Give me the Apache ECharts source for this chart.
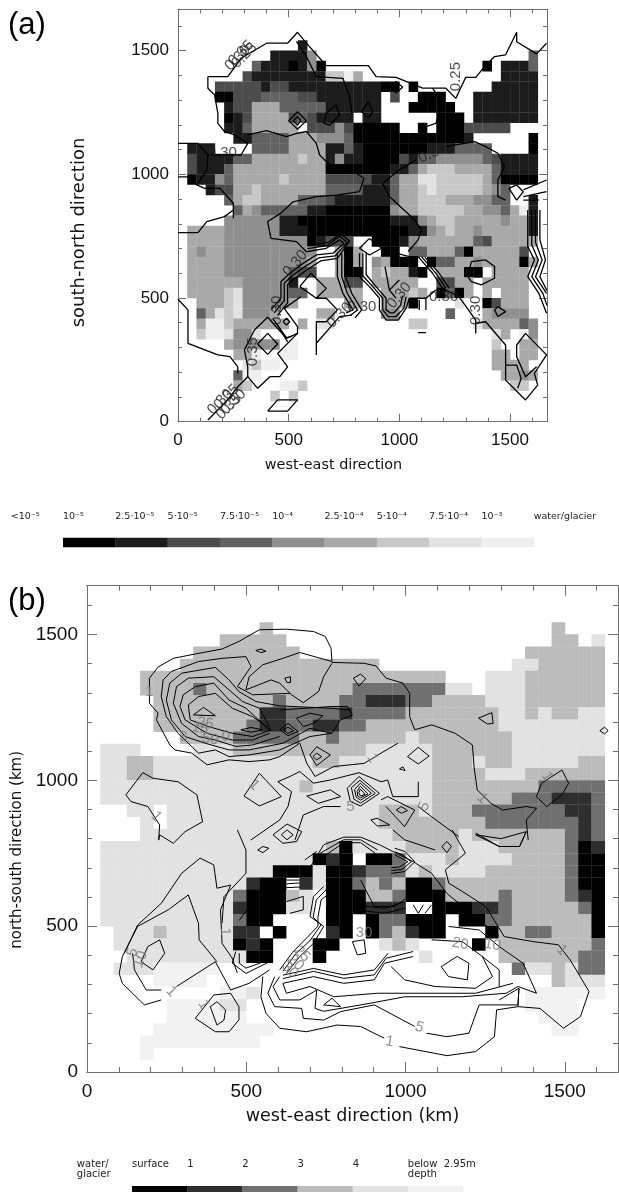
<!DOCTYPE html>
<html><head><meta charset="utf-8">
<style>html,body{margin:0;padding:0;background:#fff}#c{width:619px;height:1192px}</style>
<script src="https://cdn.jsdelivr.net/npm/echarts@6/dist/echarts.min.js"></script>
</head><body><div id="c"></div>
<script>
// Level runs per row, top row first: "startColumn:level"
const rowsA = ["","","",
"13:1 14:9","10:1 14:4 15:9 38:3 39:9","8:3 9:1 12:0 13:1 14:4 15:0 16:9 33:0 34:9 35:1 38:3 39:9",
"7:2 8:1 16:6 18:8 19:5 20:9 35:1 39:9","4:2 9:1 10:2 12:1 22:0 24:9 25:0 26:9 34:1 39:9",
"4:0 6:2 9:3 13:2 15:1 22:9 23:2 24:9 26:0 29:9 32:1 39:9","5:1 6:2 8:5 11:3 16:1 22:9 25:0 30:9 32:1 39:9",
"5:0 6:1 7:2 8:5 12:2 13:3 14:2 15:1 19:9 20:1 22:9 28:0 31:9 32:1 39:9","5:1 7:3 8:5 13:9 14:2 17:4 18:2 19:0 24:9 26:0 27:9 28:0 31:2 36:9",
"6:1 8:3 12:5 15:4 18:3 19:0 31:1 32:9 38:0 39:9","1:1 4:9 8:3 12:5 16:1 18:3 19:1 20:0 27:1 30:3 34:9 38:0 39:9",
"1:2 2:1 6:3 8:5 13:6 14:5 16:1 17:4 18:1 20:0 24:2 25:1 26:3 28:4 33:3 34:2 35:1 39:9","1:2 2:1 5:3 6:5 16:0 23:1 25:3 26:5 27:6 30:5 34:3 35:1 39:9",
"1:0 2:1 4:4 5:3 6:5 11:6 12:5 16:2 21:1 23:3 24:5 26:7 28:6 33:5 34:3 35:0 39:9","3:1 4:2 6:5 8:6 9:5 16:3 20:1 23:3 24:5 26:6 27:7 28:6 33:5 34:4 35:3 36:9",
"5:3 6:5 7:6 9:5 13:3 16:2 17:1 23:3 24:5 26:6 29:5 32:4 34:3 36:9 38:1 39:9","6:3 7:5 8:4 9:3 14:1 16:0 23:4 24:5 26:6 31:5 33:4 35:3 36:5 37:8 38:1 39:9",
"5:4 11:1 13:0 23:1 26:4 27:5 28:6 30:5 35:4 36:5 38:1 39:9","1:5 5:4 11:1 14:0 25:1 27:4 28:5 29:6 30:5 32:4 33:5 38:1 39:9",
"1:5 5:4 14:0 15:1 16:2 19:9 21:0 24:1 25:4 26:5 32:3 33:2 34:5 39:9","1:5 2:4 3:5 5:4 15:9 17:5 18:0 19:5 20:9 22:0 24:9 25:3 27:5 30:3 31:0 32:5 37:2 38:9",
"1:5 5:4 14:5 15:9 17:5 18:0 19:5 20:9 21:4 22:5 23:0 26:9 27:0 28:3 30:5 32:4 33:5 37:0 38:5 39:9","1:5 5:4 12:3 13:2 15:9 17:5 18:0 20:9 21:5 22:6 23:5 25:1 26:0 27:9 28:5 31:0 33:9 34:5 38:9",
"1:5 7:4 12:1 13:9 15:5 18:2 20:9 21:5 26:9 28:2 30:5 32:9 33:5 38:9","1:5 5:6 6:7 7:4 12:3 14:9 15:5 20:9 22:5 25:6 26:5 27:9 28:0 29:3 30:0 31:5 32:9 33:5 34:9 35:5 38:9",
"2:5 5:6 6:7 7:4 12:5 13:9 18:5 20:9 22:5 25:0 26:9 30:7 31:9 33:0 34:2 35:5 38:9","2:3 3:5 4:7 5:6 6:7 7:4 10:5 11:9 15:5 17:9 22:4 24:9 29:3 30:9 33:5 34:4 38:9",
"2:5 3:8 5:6 6:5 12:9 13:5 14:9 15:7 17:9 25:6 27:9 32:7 33:5 37:3 38:4 39:9","2:6 3:8 5:7 6:4 8:7 9:9 34:7 35:5 36:9 37:8 38:4 39:9",
"5:5 6:4 9:4 11:9 12:8 13:9 34:6 35:9 37:5 39:9","6:5 8:8 9:9 11:8 13:9 34:5 36:9 37:5 39:9",
"7:7 8:6 9:8 11:9 34:5 38:9","6:3 7:8 9:9 35:5 37:4 38:5 39:9",
"6:5 7:6 8:9 11:8 13:6 14:9 36:6 38:9","10:6 11:9 12:6 13:9","",""];
const rowsB = ["","","",
"13:3 14:9 35:3 36:9","10:3 15:9 35:3 37:9 38:4 39:9","8:3 16:9 33:3 39:9",
"7:3 22:9 32:4 34:3 39:9","4:3 27:9 30:4 33:3 39:9","4:3 8:2 9:3 20:2 27:4 29:9 30:4 33:3 39:9",
"5:3 14:2 15:3 19:2 21:1 24:2 26:3 30:4 33:3 39:9","5:3 13:1 15:2 19:1 20:2 24:3 31:4 33:3 34:4 35:3 37:4 39:9","5:3 12:2 13:1 15:2 17:1 19:2 21:3 31:4 39:9",
"7:3 11:2 16:3 18:2 19:3 24:4 25:3 32:4 39:9","1:4 4:9 8:4 11:3 21:4 26:3 32:4 39:9","1:4 3:3 5:4 17:3 19:4 26:3 29:4 30:3 32:4 37:3 39:9",
"1:4 3:3 5:4 26:3 30:4 33:3 39:9","1:4 16:3 17:4 26:3 34:2 39:9","1:4 26:3 32:2 35:1 38:2 39:9",
"3:4 5:9 6:4 22:3 25:4 26:3 29:2 36:1 38:2 39:9","4:4 5:9 6:4 22:3 30:2 37:1 38:2 39:9","4:4 23:3 28:4 29:3 36:2 37:1 38:2 39:9",
"1:4 18:3 19:0 20:4 24:3 28:4 31:3 36:2 37:0 38:1 39:9","1:4 17:0 18:1 19:0 20:9 21:0 23:2 24:4 27:3 28:4 32:3 36:2 37:0 39:9","1:4 14:0 17:4 18:0 20:1 21:2 24:4 25:3 26:4 30:3 36:2 37:0 39:9",
"1:4 12:1 13:0 15:9 16:1 17:4 18:0 20:2 21:3 22:2 23:3 24:0 26:2 27:3 36:2 37:0 39:9","1:4 11:2 12:0 15:3 16:4 17:9 18:0 21:3 23:2 24:0 27:3 31:2 32:3 36:2 37:1 38:0 39:9","1:4 11:1 12:0 15:4 17:9 18:0 21:1 24:9 26:0 29:1 31:2 32:3 37:2 38:0 39:9",
"1:4 11:2 12:0 14:9 18:0 20:9 21:0 22:2 24:0 27:9 28:0 30:2 32:3 38:0 39:9","2:4 5:3 6:4 11:1 13:9 14:0 15:9 18:1 19:0 20:9 21:0 22:2 23:3 24:1 25:0 27:9 30:0 31:3 33:2 35:3 38:0 39:9","2:4 11:0 12:1 13:0 14:9 17:0 19:9 22:4 23:3 24:4 25:9 29:0 30:9 31:3 38:2 39:9",
"3:4 12:0 14:9 17:0 18:9 25:4 26:9 31:3 37:2 39:9","2:4 5:5 10:9 32:2 33:4 35:3 36:4 37:2 39:9","5:5 9:9 35:3 36:4 38:4 39:9",
"10:5 12:4 13:9 33:5 39:9","6:5 10:4 12:9 33:5 37:9","6:5 12:9 34:5 37:9","5:5 14:9 35:5 37:9","4:5 13:9","4:5 5:9",""];

const levelColorsA = ["#000000","#1c1c1c","#4c4c4c","#626262","#8f8f8f","#a9a9a9","#c8c8c8","#e2e2e2","#efefef","#ffffff"];
const levelColorsB = ["#000000","#2e2e2e","#707070","#bcbcbc","#e2e2e2","#f2f2f2","#ffffff","#ffffff","#ffffff","#ffffff"];

// Contours: flat x,y lists in km
const openA = [
[135,1395,225,1395,285,1469,400,1530,495,1530,540,1574,580,1530,670,1439,860,1439,895,1395,985,1392,1105,1348,1210,1348,1255,1307,1300,1392,1345,1392,1385,1435,1430,1476,1480,1483,1530,1574,1530,1536,1620,1487,1665,1530],
[135,1395,135,1348,165,1321,180,1247,180,1206,210,1173,255,1159,315,1125,285,1078,135,1078],
[0,1125,90,1125,135,1078,130,1018,85,957,120,943,190,943,250,883,250,822],[0,990,40,990,85,957],
[315,1159,400,1177,490,1152,540,1166,580,1173,625,1125,640,1078,685,1038,805,1004,840,984,820,930,715,916,625,910,520,889,465,843,405,809,420,741,535,728,580,687],
[535,1537,580,1476,625,1395,745,1388,775,1314,785,1247],
[925,964,1000,1018,1075,1058],[1210,1112,1340,1132,1390,1112,1445,1085,1475,1031,1445,977,1445,910,1480,896],
[925,964,955,910,1070,815,1100,775,1085,735,1040,688],[1120,1193,1165,1206,1195,1287,1150,1348],
[1560,937,1665,977],[1560,910,1665,930],[1560,896,1630,896],
[1580,856,1580,708,1610,654,1580,586,1630,519,1665,438],[1598,856,1598,715,1628,654,1598,586,1648,519,1667,470],[1615,856,1615,725,1645,654,1615,586,1665,519],[1635,856,1635,735,1660,654,1635,586,1667,530],
[0,495,45,452,45,317,180,270,235,263,270,222,270,195],[0,764,90,764,130,809,210,829,250,856],
[135,7,210,74,270,141,315,182,315,222,300,290,345,371,405,422,490,337,540,357,540,384,480,458,555,505],
[315,182,360,135,415,182,460,182,495,222,450,276,540,357],
[580,687,670,701,730,735,750,721,700,681,625,674,565,640,505,600,465,566,465,499,420,452],
[585,700,675,712,730,750,765,725,710,670,635,662,575,628,515,590,480,560,480,490,435,440],
[590,712,680,725,735,760,775,730,720,660,645,650,585,615,530,580,495,555,495,480,450,430],
[445,398,495,323],[430,415,490,340,515,345],
[625,499,670,499,720,452,670,404,625,404,625,270],[625,317,730,425,785,431],
[720,681,720,586,745,519,790,452,760,440],[740,681,740,586,765,519,810,452,780,430],[760,681,755,590,785,519,830,452,800,420],
[820,681,820,586,865,546,910,499,910,452,940,411,995,411,1030,458,1045,499],[835,681,835,590,880,546,925,499,925,452,950,425,985,425,1020,458,1030,505],[850,681,850,595,895,546,940,499,940,452,960,440,975,440,1005,470,1015,510],
[865,775,985,681,1045,667,1085,667,1150,600,1195,539,1270,505,1345,411,1345,357],[1100,667,1165,600,1210,539],[1115,665,1180,600,1225,539],
[935,627,955,532,1000,573],[955,532,985,499],[1045,499,1120,499,1165,532],[1120,499,1120,452],[1090,492,1090,452],[1085,360,1120,360],
[1345,398,1390,404,1480,310,1480,168,1570,88,1625,148,1610,195,1665,270,1570,357,1530,310,1530,263,1570,182,1620,222],
[1480,229,1530,229,1550,175,1535,135]];
const closedA = [
[670,1247,715,1280,730,1240,685,1199,660,1206],[860,1294,880,1253,860,1226,830,1253],[985,1375,1015,1352,985,1330,960,1352],
[540,1253,580,1217,540,1182,500,1217],[540,1233,555,1217,540,1199,520,1217],[1495,943,1530,957,1560,930,1530,896],
[405,357,450,314,405,272,360,314],[475,404,490,418,505,404,490,391],[405,43,450,88,540,88,495,43],
[550,546,625,499,670,539,600,600],[865,741,920,701,865,674,820,701],[815,768,830,789,850,775,830,755],
[1325,647,1390,654,1430,627,1430,580,1370,553,1325,566,1310,586],[1445,465,1480,445,1445,425,1430,452]];
const openB = [
[196,1350,223,1388,271,1418,340,1433,424,1450,477,1476,541,1516,626,1518,711,1510,748,1493,766,1453,769,1407],
[769,1404,870,1401,907,1392,939,1350,992,1333,1013,1298,1013,1218,1029,1173,1082,1190,1156,1161,1210,1121,1215,1047,1225,967,1268,921,1305,898,1379,910,1411,904,1379,864,1385,795],
[769,1401,743,1355,727,1304,679,1266,642,1293,605,1333,578,1344,499,1310,509,1355,552,1396,615,1418,668,1438,769,1407],
[196,1350,196,1264,223,1230,218,1207,260,1121,276,1104,329,1093,377,1053,446,1070,509,1064,573,1070,605,1081,668,1127,690,1058,716,1013,774,1047,870,1058,923,1093,976,1127],
[239,1344,265,1373,350,1407,424,1418,499,1424,515,1390,472,1321,520,1293,637,1298],
[239,1344,233,1287,249,1218,286,1161,350,1093,403,1104,446,1081,509,1087,605,1104,700,1150,769,1161,796,1207,833,1224,817,1253,769,1253,605,1241],
[260,1333,297,1367,403,1387,446,1344,477,1304,530,1270,605,1255,764,1247,828,1241],
[260,1333,249,1275,265,1207,308,1150,371,1127,446,1104,509,1104,615,1127,700,1178,769,1161],
[281,1321,318,1350,398,1355,446,1310,488,1270,541,1247,573,1184],
[281,1321,271,1264,297,1195,350,1150,403,1138,467,1116,520,1121,605,1150],
[302,1293,340,1321,398,1333,446,1275,499,1247,573,1173],
[302,1293,292,1253,308,1207,377,1161,456,1138,520,1138,573,1161],
[122,950,175,1026,207,1007,286,995,345,950,363,858,308,824,271,784,228,813,225,795,228,847,191,910,138,927,122,950],
[514,795,605,864,631,910,642,961,599,995,637,1013,668,1030,711,990,764,1001,854,1026,923,995,944,1001,960,944,1040,944,1040,995],
[653,795,679,881,743,910,796,910],
[923,933,944,944],[939,910,997,841,1029,898,944,944],[1040,910,1082,875,1167,807],
[960,830,997,796,1093,761],[1146,830,1188,750,1125,693,1136,647,1178,619,1252,567,1310,464,1401,447,1480,436,1517,384,1576,276,1549,190,1496,150,1422,218,1353,224,1356,287,1294,247],
[1220,819,1294,773,1358,773,1379,824],
[552,327,546,258,562,201,605,150,689,138,785,161,859,156,933,116],[981,87,1130,56,1220,70,1279,121,1286,213,1353,224],
[589,327,568,270,589,224,674,218,679,184,743,178,796,207,902,230,1029,156],[1066,133,1130,121,1199,133,1231,230,1353,230,1356,287],
[605,327,584,293,605,247,668,247,721,281,716,218,743,208,891,236,998,258,1178,258,1316,270,1353,293,1411,270],
[615,304,626,270,700,293,775,258,912,270,1220,270,1337,304],
[615,304,711,327,806,304,902,316,934,373,1024,396],[615,320,711,345,806,321,902,333,939,390,1024,413],[615,332,711,355,806,333,902,350,945,407],
[955,361,997,316,1093,293,1220,287,1273,327,1241,396,1178,447,1082,453],
[1135,499,1231,487,1294,430,1369,373,1411,270],[1241,396,1294,350,1294,293],
[101,338,111,396,159,499,255,556,318,607,350,510,352,453,408,378],
[101,338,111,304,180,230,233,247],[281,293,403,378,451,281,509,304,573,350],
[117,407,159,504,233,578,297,681,355,733,398,710,408,630,451,641,419,556,424,441,456,390,472,339],
[143,407,149,350,186,281,233,281],
[472,830,499,761,499,681,430,601,424,510],
[478,520,531,600,605,690,700,701,743,779,806,805,859,805,918,779,1024,721,1082,681,1130,612,1294,465],
[966,767,998,756,1029,721,998,687,955,681],[966,755,990,745,1018,721,990,695,955,690],[966,745,982,735,1007,721,982,703,955,700],
[732,750,806,796,859,796,912,761],[745,740,806,786,859,786,905,750],[684,727,721,756],
[626,658,668,658],[626,645,668,648],[626,632,668,634],
[743,636,711,601,700,533,743,499,711,441,668,396,626,338],[755,630,720,590,710,530,735,505,700,450,655,405,615,345],[770,620,735,590,725,530,725,500,690,460,645,410,605,350],
[859,658,902,567,965,567,1018,607],[838,573,934,561,998,584],[843,556,934,544,998,561],
[1024,573,1040,544,1056,573],[1061,544,1082,573],
[467,413,456,373,499,338,573,378],[478,407,478,373,499,356,573,385],
[637,544,679,556,679,602,626,584]];
const closedB = [
[334,1224,366,1250,403,1221],[318,1258,350,1287,403,1298,456,1247,520,1218,578,1173,520,1150,456,1161,382,1184,324,1207],
[483,1173,515,1181,552,1173,515,1165],[605,1173,631,1195,663,1167,631,1153],[616,1173,631,1182,649,1170,631,1161],
[658,1213,700,1230,741,1221,711,1195,679,1184],[721,1115,764,1087,721,1050,700,1087],[721,1093,737,1081,721,1070,709,1081],
[530,1445,546,1450,562,1442,546,1438],[621,1350,639,1355,639,1335,628,1335],[836,1350,859,1364,875,1348,854,1323],
[1229,1213,1271,1232,1275,1195,1257,1193],[1610,1170,1625,1182,1636,1170,1625,1159],[1006,1081,1040,1113,1074,1083,1040,1056],
[981,1039,992,1046,999,1033],[493,946,541,1024,610,944,541,912],
[817,973,854,1013,918,955,859,912,827,927],[830,975,857,1000,905,955,859,922,838,935],[840,968,858,990,893,955,859,932,845,942],[848,962,858,980,882,953,859,940,850,946],[853,957,858,970,873,952,859,946],
[971,898,987,910,1006,896,987,887],[891,864,911,870,950,847,912,843],[690,946,764,967,796,944,726,921],
[1411,944,1427,990,1491,1035,1512,990,1491,950,1443,910],
[1130,790,1144,773,1130,752,1114,773],[1220,813,1294,773,1358,773,1379,824,1300,800],
[1112,361,1162,396,1199,373,1194,316,1135,327],[833,447,870,453,875,407,849,401],
[743,230,769,253,796,224],[191,430,228,453,244,407,207,350,170,378],
[340,184,398,264,451,270,477,224,477,179,446,138,403,138],[387,224,408,241,435,213,430,178,408,161],
[536,761,552,773,571,767,552,752],[610,813,628,830,647,813,628,796],[584,813,628,850,674,824,658,790,615,784]];

// Contour labels: x, y, text, rotation
const labelsA = [[1255,1395,"0.25",90],[1150,1085,"0.30",25],[200,1085,"0.30",0],[285,1490,"0.35",45],[270,1470,"0.30",45],[300,1480,"0.25",45],
[530,640,"0.30",50],[445,450,"0.30",90],[340,283,"0.35",90],[830,465,"0.30",0],[1345,450,"0.30",90],[1200,505,"0.30",0],
[220,100,"0.35",45],[190,80,"0.30",45],[250,80,"0.30",45],[230,60,"0.35",45],[730,430,"0.30",45],[1000,510,"0.30",50]];
const labelsB = [[196,1304,"1",0],[896,1075,"1",-60],[525,984,"1",-45],[218,876,"1",-45],[827,910,"5",0],[1059,910,"5",70],[1241,938,"1",-45],[1445,1013,"1",-60],
[302,1148,"3",0],[355,1178,"15",-10],[371,1195,"25",-10],[387,1141,"50",-10],[435,1150,"0",-10],
[143,410,"5",70],[168,386,"10",70],[265,276,"1",-45],[366,230,"1",-60],[435,481,"1",-90],[950,104,"1",-10],[1043,153,"5",-20],[1172,439,"20",-10],[1273,436,"10",-10],[1491,418,"1",-45],
[870,476,"30",0],[637,350,"30",-45],[655,375,"20",-45],[675,405,"25",-45]];

// Legends
const legendLevelsA = [0,1,2,3,4,5,6,7,8];
const legendTextA = ["<10⁻⁵","10⁻⁵","2.5·10⁻⁵","5·10⁻⁵","7.5·10⁻⁵","10⁻⁴","2.5·10⁻⁴","5·10⁻⁴","7.5·10⁻⁴","10⁻³","water/glacier"];
const legendLevelsB = [0,1,2,3,4,5];
const legendTextB = ["water/\nglacier","surface","1","2","3","4","below  2.95m\ndepth"];

const EXT = 1667, CELL = EXT/40;
function decode(runs){
  const row = new Array(40).fill(9), parts = runs ? runs.split(' ') : [];
  parts.forEach((p,i)=>{
    const [s,l] = p.split(':').map(Number);
    const e = i+1<parts.length ? +parts[i+1].split(':')[0] : 40;
    for(let c=s;c<e;c++) row[c]=l;
  });
  return row;
}
function cells(rows){
  const out=[];
  rows.forEach((runs,r)=>decode(runs).forEach((l,c)=>{ if(l!==9) out.push([c*CELL, EXT-(r+1)*CELL, l]); }));
  return out;
}
function pairs(f,close){ const o=[]; for(let i=0;i<f.length;i+=2)o.push([f[i],f[i+1]]); if(close)o.push(o[0]); return o; }
const FONT="Liberation Sans", NFONT="DejaVu Sans";
const frame="#6e6e6e";

const opt={animation:false,backgroundColor:"#fff",grid:[],xAxis:[],yAxis:[],series:[],
 graphic:[
  {type:'text',left:8,top:10,style:{text:"(a)",font:"31px "+FONT,fill:"#000"}},
  {type:'text',left:8,top:586,style:{text:"(b)",font:"31px "+FONT,fill:"#000"}}
 ]};

function panel(g,o){
  const gi=opt.grid.length;
  opt.grid.push({left:g.left,top:g.top,width:g.width,height:g.height,containLabel:false,outerBoundsMode:'none'});
  const common=(extra)=>Object.assign({type:'value',gridIndex:gi,min:0,max:EXT,splitLine:{show:false},
    axisLine:{show:true,onZero:false,lineStyle:{color:frame,width:1}},axisLabel:{show:false},minorTick:{show:false}},extra);
  const xi=opt.xAxis.length, yi=opt.yAxis.length;
  const lab=(v)=>(v%500===0&&v<=1500)?String(v):'';
  const tick=(len)=>({show:true,inside:true,length:len,lineStyle:{color:frame,width:1}});
  opt.xAxis.push(common({position:'bottom',interval:500,axisTick:tick(g.major),
     axisLabel:{show:true,margin:g.xMargin,formatter:lab,showMaxLabel:false,fontFamily:FONT,fontSize:g.fs,color:"#111"},
     name:o.xName,nameLocation:'middle',nameGap:g.xGap,nameTextStyle:{fontFamily:NFONT,fontSize:g.nsx,color:"#111",padding:g.xPad}}));
  opt.xAxis.push(common({position:'bottom',interval:100,axisTick:tick(g.minor)}));
  opt.xAxis.push(common({position:'top',interval:500,axisTick:tick(g.major)}));
  opt.xAxis.push(common({position:'top',interval:100,axisTick:tick(g.minor)}));
  opt.yAxis.push(common({position:'left',interval:500,axisTick:tick(g.major),
     axisLabel:{show:true,margin:g.yMargin,formatter:lab,showMaxLabel:false,fontFamily:FONT,fontSize:g.fs,color:"#111"},
     name:o.yName,nameLocation:'middle',nameGap:g.yGap,nameTextStyle:{fontFamily:NFONT,fontSize:g.nsy,color:"#111",padding:g.yPad}}));
  opt.yAxis.push(common({position:'left',interval:100,axisTick:tick(g.minor)}));
  opt.yAxis.push(common({position:'right',interval:500,axisTick:tick(g.major)}));
  opt.yAxis.push(common({position:'right',interval:100,axisTick:tick(g.minor)}));
  const colors=o.colors;
  opt.series.push({type:'custom',xAxisIndex:xi,yAxisIndex:yi,data:cells(o.rows),silent:true,clip:true,z:1,
    renderItem:(p,api)=>{
      const x=api.value(0),y=api.value(1),l=api.value(2);
      const a=api.coord([x,y+CELL]),b=api.coord([x+CELL,y]);
      return {type:'rect',shape:{x:a[0],y:a[1],width:b[0]-a[0]+.3,height:b[1]-a[1]+.3},style:{fill:colors[l]}};
    }});
  const line=(f,close)=>opt.series.push({type:'line',xAxisIndex:xi,yAxisIndex:yi,data:pairs(f,close),showSymbol:false,symbol:'none',silent:true,z:3,
    lineStyle:{color:"#000",width:o.lw}});
  o.open.forEach(f=>line(f,false)); o.closed.forEach(f=>line(f,true));
  opt.series.push({type:'scatter',xAxisIndex:xi,yAxisIndex:yi,symbolSize:0,silent:true,z:4,
    data:o.labels.map(l=>({value:[l[0],l[1]],label:{show:true,position:'inside',formatter:l[2],rotate:l[3],fontFamily:FONT,fontSize:o.ls,color:o.lc}}))});
}
panel({left:178,top:9.3,width:369,height:412.4,major:8,minor:4,fs:17,nsx:14.4,nsy:18,xMargin:10,yMargin:9,xGap:37,yGap:90,xPad:[0,58,0,0],yPad:[0,34,0,0]},
 {rows:rowsA,colors:levelColorsA,open:openA,closed:closedA,labels:labelsA,lw:1.3,ls:15,lc:"#222",xName:"west-east direction",yName:"south-north direction"});
panel({left:87,top:585.7,width:531,height:486.3,major:10,minor:5,fs:19,nsx:17.5,nsy:15,xMargin:10,yMargin:9,xGap:35,yGap:60,xPad:[0,0,0,0],yPad:[0,42,0,0]},
 {rows:rowsB,colors:levelColorsB,open:openB,closed:closedB,labels:labelsB,lw:1,ls:15,lc:"#777",xName:"west-east direction (km)",yName:"north-south direction (km)"});

function legend(g,levels,colors,texts,first,fs,dy,lh){
  const gi=opt.grid.length, xi=opt.xAxis.length, yi=opt.yAxis.length;
  opt.grid.push({left:g.left,top:g.top,width:g.width,height:g.height,outerBoundsMode:'none'});
  opt.xAxis.push({type:'value',gridIndex:gi,min:0,max:levels.length,show:false});
  opt.yAxis.push({type:'value',gridIndex:gi,min:0,max:1,show:false});
  opt.series.push({type:'custom',xAxisIndex:xi,yAxisIndex:yi,silent:true,clip:false,data:levels.map((l,i)=>[i,l]),
    renderItem:(p,api)=>{
      const i=api.value(0),a=api.coord([i,1]),b=api.coord([i+1,0]);
      return {type:'rect',shape:{x:a[0],y:a[1],width:b[0]-a[0]+.3,height:b[1]-a[1]},style:{fill:colors[api.value(1)]}};
    }});
  opt.series.push({type:'custom',xAxisIndex:xi,yAxisIndex:yi,silent:true,clip:false,
    data:texts.map((t,i)=>[i+first,i]),
    renderItem:(p,api)=>{
      const a=api.coord([api.value(0),1]);
      return {type:'text',style:{x:a[0],y:a[1]-dy,text:texts[api.value(1)],font:fs+"px "+NFONT,fill:"#222",textAlign:'left',textVerticalAlign:'top',lineHeight:lh}};
    }});
}
legend({left:63,top:537.7,width:470.7,height:9.6},legendLevelsA,levelColorsA,legendTextA,-1,9.5,26.5,11);
legend({left:132,top:1186,width:331,height:6},legendLevelsB,levelColorsB,legendTextB,-1,10,27,10.5);
echarts.init(document.getElementById('c'),null,{renderer:'canvas'}).setOption(opt);
</script></body></html>
